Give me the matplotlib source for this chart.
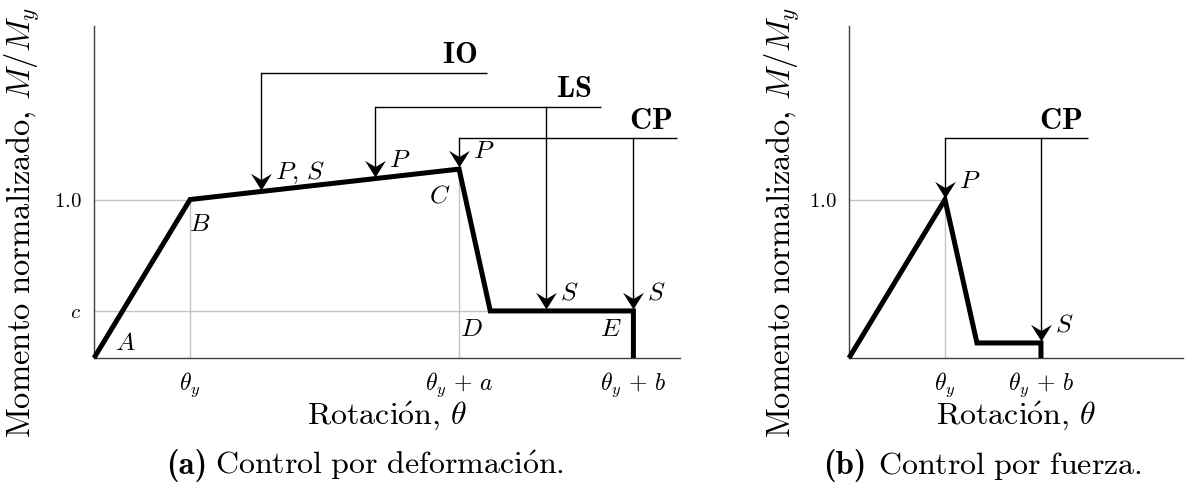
import os
import numpy as np
import matplotlib
matplotlib.use("Agg")
import matplotlib.pyplot as plt
from matplotlib.path import Path
from matplotlib.font_manager import FontProperties

plt.rcParams['mathtext.fontset'] = 'cm'
plt.rcParams['font.family'] = ['DejaVu Serif']

# ---------------- data ----------------
# (a) deformation controlled
theta_a = [0.0, 1.0, 3.80, 4.125, 5.615, 5.615]
moment_a = [0.0, 1.0, 1.192, 0.297, 0.297, 0.0]
point_names_a = ['A', 'B', 'C', 'D', 'E']
xticks_a = [1.0, 3.80, 5.615]
xticklabels_a = [r'$\theta_y$', r'$\theta_y\,+\,a$', r'$\theta_y\,+\,b$']
yticks_a = [0.297, 1.0]
yticklabels_a = [r'$c$', r'$1.0$']

# performance-level brackets (a)
levels_a = ['IO', 'LS', 'CP']
level_y_a = [1.80, 1.584, 1.388]
level_x0_a = [1.74, 2.92, 3.80]
level_x1_a = [4.09, 5.28, 6.07]
level_arrows_a = [[1.74], [2.92, 4.70], [3.80, 5.615]]
level_arrow_labels_a = [[r'$P,\,S$'], [r'$P$', r'$S$'], [r'$P$', r'$S$']]

# (b) force controlled
theta_b = [0.0, 1.0, 1.333, 2.0, 2.0]
moment_b = [0.0, 1.0, 0.095, 0.095, 0.0]
xticks_b = [1.0, 2.0]
xticklabels_b = [r'$\theta_y$', r'$\theta_y\,+\,b$']
yticks_b = [1.0]
yticklabels_b = [r'$1.0$']
levels_b = ['CP']
level_y_b = [1.388]
level_x0_b = [1.0]
level_x1_b = [2.49]
level_arrows_b = [[1.0, 2.0]]
level_arrow_labels_b = [[r'$P$', r'$S$']]

xlabel_text = r'$\mathrm{Rotaci\acute{o}n,}\,\theta$'
ylabel_text = r'$\mathrm{Momento\ normalizado,}\,M/M_y$'
caption_tags = ['(a)', '(b)']
caption_texts = [r'$\mathrm{Control\ por\ deformaci\acute{o}n.}$',
                 r'$\mathrm{Control\ por\ fuerza.}$']

# ---------------- styling ----------------
W, H = 1189, 488
fig = plt.figure(figsize=(W / 100, H / 100), dpi=100)


def px2pt(v):
    return v * 0.72


stealth = Path([(0, 0), (7.5, 12), (0, 7.5), (-7.5, 12), (0, 0)],
               [Path.MOVETO, Path.LINETO, Path.LINETO, Path.LINETO, Path.CLOSEPOLY])

GRAY = '#c4c4c4'
XTICK_FS = 17
YTICK_FS = 15
LAB_FS = 23
YLAB_FS = 23.5
PT_FS = 18.5
LEVEL_FS = 22

cmb_path = os.path.join(matplotlib.get_data_path(), 'fonts', 'ttf', 'cmb10.ttf')
bold_fp = FontProperties(fname=cmb_path, size=23.5) if os.path.exists(cmb_path) else \
    FontProperties(family='DejaVu Serif', weight='bold', size=21)


def setup(ax, xmax, ymax, xt, xtl, yt, ytl):
    ax.set_xlim(0, xmax)
    ax.set_ylim(0, ymax)
    for s in ['top', 'right']:
        ax.spines[s].set_visible(False)
    for s in ['left', 'bottom']:
        ax.spines[s].set_color('0.25')
        ax.spines[s].set_linewidth(1.0)
    ax.tick_params(length=0)
    ax.tick_params(axis='x', pad=9, labelsize=XTICK_FS)
    ax.tick_params(axis='y', pad=9, labelsize=YTICK_FS)
    ax.set_xticks(xt)
    ax.set_xticklabels(xtl, fontsize=XTICK_FS)
    ax.set_yticks(yt)
    ax.set_yticklabels(ytl, fontsize=YTICK_FS)
    ax.set_facecolor('none')


def draw_levels(ax, names, ys, x0s, x1s, arrows, labels, cx, cy):
    for name, y, x0, x1, axs, labs in zip(names, ys, x0s, x1s, arrows, labels):
        ax.plot([x0, x1], [y, y], color='black', lw=1.0, zorder=3, solid_capstyle='butt')
        ax.annotate(r'$\mathbf{%s}$' % name, xy=(x1, y), xytext=(px2pt(-27), px2pt(18)),
                    textcoords='offset points', ha='center', va='center', fontsize=LEVEL_FS)
        for xa, lab in zip(axs, labs):
            ya = np.interp(xa, cx, cy) if xa < cx[-1] else cy[-2]
            ya = ya + 0.012
            ax.plot([xa, xa], [y, ya + 0.05], color='black', lw=1.0, zorder=3)
            ax.plot([xa], [ya], marker=stealth, markersize=24, color='black',
                    markeredgewidth=0, zorder=5, clip_on=False)
            ax.annotate(lab, xy=(xa, ya), xytext=(px2pt(14), px2pt(17)),
                        textcoords='offset points', ha='left', va='center', fontsize=PT_FS)


def labels(ax, ylabel_x_axes):
    ax.set_xlabel(xlabel_text, fontsize=LAB_FS)
    ax.xaxis.set_label_coords(0.5, (358 - 425) / 332)
    ax.xaxis.label.set_va('baseline')
    ax.set_ylabel(ylabel_text, fontsize=YLAB_FS)
    ax.yaxis.set_label_coords(ylabel_x_axes, (358 - 222) / 332)
    ax.yaxis.label.set_va('center')


# ---------------- panel (a) ----------------
bottom = 1 - 358 / H
height = 332 / H
ax1 = fig.add_axes([94 / W, bottom, 586 / W, height])
setup(ax1, 6.10, 2.095, xticks_a, xticklabels_a, yticks_a, yticklabels_a)

ax1.plot([theta_a[1], theta_a[1]], [0, moment_a[1]], color=GRAY, lw=1.0, zorder=1)
ax1.plot([theta_a[2], theta_a[2]], [0, moment_a[2]], color=GRAY, lw=1.0, zorder=1)
ax1.plot([0, theta_a[1]], [moment_a[1], moment_a[1]], color=GRAY, lw=1.0, zorder=1)
ax1.plot([0, theta_a[3]], [moment_a[3], moment_a[3]], color=GRAY, lw=1.0, zorder=1)

ax1.plot(theta_a, moment_a, color='black', lw=3.6, zorder=4, clip_on=False,
         solid_joinstyle='miter', solid_capstyle='butt')

offsets_a = [(31, 15), (10, -24), (-19, -26), (-19, -18), (-23, -18)]
for i, (name, (dx, dy)) in enumerate(zip(point_names_a, offsets_a)):
    ax1.annotate(r'$%s$' % name, xy=(theta_a[i], moment_a[i]),
                 xytext=(px2pt(dx), px2pt(dy)), textcoords='offset points',
                 ha='center', va='center', fontsize=PT_FS)

draw_levels(ax1, levels_a, level_y_a, level_x0_a, level_x1_a, level_arrows_a,
            level_arrow_labels_a, theta_a, moment_a)
labels(ax1, (22 - 94) / 586)

# ---------------- panel (b) ----------------
ax2 = fig.add_axes([849 / W, bottom, 334 / W, height])
setup(ax2, 3.48, 2.095, xticks_b, xticklabels_b, yticks_b, yticklabels_b)

ax2.plot([theta_b[1], theta_b[1]], [0, moment_b[1]], color=GRAY, lw=1.0, zorder=1)
ax2.plot([0, theta_b[1]], [moment_b[1], moment_b[1]], color=GRAY, lw=1.0, zorder=1)
ax2.plot(theta_b, moment_b, color='black', lw=3.6, zorder=4, clip_on=False,
         solid_joinstyle='miter', solid_capstyle='butt')

draw_levels(ax2, levels_b, level_y_b, level_x0_b, level_x1_b, level_arrows_b,
            level_arrow_labels_b, theta_b, moment_b)
labels(ax2, (782 - 849) / 334)

# ---------------- captions ----------------
tag_right_px = [207, 866]
text_left_px = [215, 878]
base_y = 1 - 474 / H
for tag, txt, xr, xl in zip(caption_tags, caption_texts, tag_right_px, text_left_px):
    fig.text(xr / W, base_y, tag, ha='right', va='baseline', fontproperties=bold_fp)
    fig.text(xl / W, base_y, txt, ha='left', va='baseline', fontsize=LAB_FS)

fig.savefig('out.png', dpi=100)
